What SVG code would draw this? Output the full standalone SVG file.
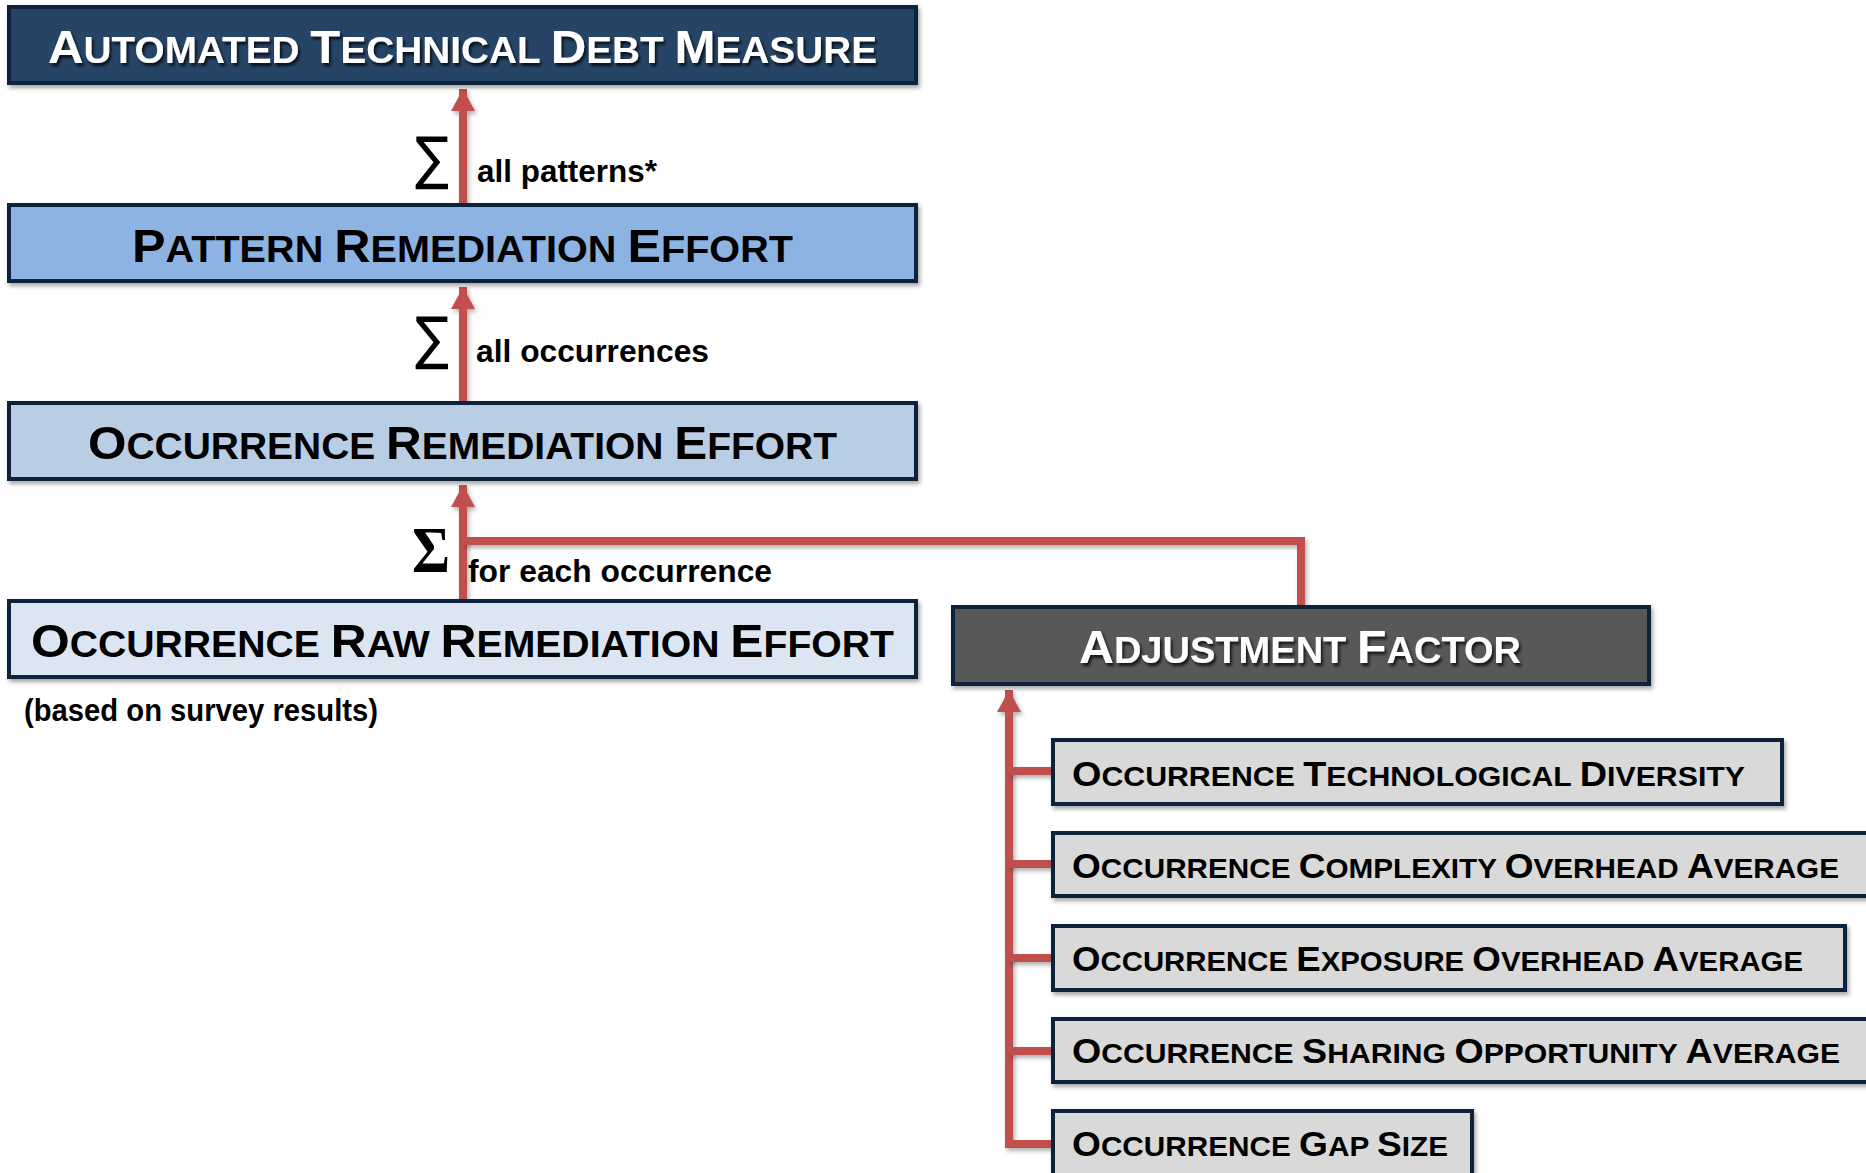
<svg xmlns="http://www.w3.org/2000/svg" width="1866" height="1173" viewBox="0 0 1866 1173">
  <defs>
    <filter id="boxShadow" x="-5%" y="-20%" width="110%" height="150%">
      <feDropShadow dx="2" dy="3" stdDeviation="2" flood-color="#000" flood-opacity="0.35"/>
    </filter>
    <filter id="lineShadow" filterUnits="userSpaceOnUse" x="0" y="0" width="1866" height="1173">
      <feDropShadow dx="2" dy="3" stdDeviation="2" flood-color="#000" flood-opacity="0.3"/>
    </filter>
    <filter id="textShadow" x="-5%" y="-30%" width="110%" height="160%">
      <feDropShadow dx="2" dy="3" stdDeviation="1.5" flood-color="#000" flood-opacity="0.75"/>
    </filter>
    <marker id="arrow" markerUnits="userSpaceOnUse" markerWidth="24" markerHeight="24" refX="22" refY="12" orient="auto">
      <path d="M0,0 L22,12 L0,24 Z" fill="#C0504D"/>
    </marker>
    <style>
      .box { stroke: #10243E; stroke-width: 4; filter: url(#boxShadow); }
      .b1 { fill: #284466; }
      .b2 { fill: #8DB3E2; }
      .b3 { fill: #B9CDE5; }
      .b4 { fill: #DCE6F2; }
      .adj { fill: #595959; }
      .sub { fill: #D9D9D9; }
      .big { font-family: "Liberation Sans", Arial, sans-serif; font-weight: bold; font-size: 37px; fill: #000; }
      .big .c { font-size: 47px; }
      .light { fill: #fff; filter: url(#textShadow); }
      .small { font-family: "Liberation Sans", Arial, sans-serif; font-weight: bold; font-size: 28px; fill: #000; }
      .small .c { font-size: 35px; }
      .lbl { font-family: "Liberation Sans", Arial, sans-serif; font-weight: bold; font-size: 32px; fill: #000; }
      .sig { font-family: "DejaVu Sans", "Liberation Sans", sans-serif; font-size: 58px; fill: #000; }
      .sigb { font-family: "Liberation Serif", "Times New Roman", serif; font-weight: bold; font-size: 65px; fill: #000; }
      .wire { fill: none; stroke: #C0504D; stroke-width: 8; filter: url(#lineShadow); }
    </style>
  </defs>

  <!-- connectors -->
  <g id="connectors">
    <line class="wire" x1="463" y1="203" x2="463" y2="89" marker-end="url(#arrow)"/>
    <line class="wire" x1="463" y1="401" x2="463" y2="287" marker-end="url(#arrow)"/>
    <line class="wire" x1="463" y1="599" x2="463" y2="485" marker-end="url(#arrow)"/>
    <polyline class="wire" points="463,541 1301,541 1301,606"/>
    <polyline class="wire" points="1052,1144 1009,1144 1009,690" marker-end="url(#arrow)"/>
    <line class="wire" x1="1009" y1="771" x2="1052" y2="771"/>
    <line class="wire" x1="1009" y1="864" x2="1052" y2="864"/>
    <line class="wire" x1="1009" y1="958" x2="1052" y2="958"/>
    <line class="wire" x1="1009" y1="1051" x2="1052" y2="1051"/>
  </g>

  <!-- connector labels -->
  <g id="labels">
    <text class="sig" x="415" y="178" textLength="34" lengthAdjust="spacingAndGlyphs">∑</text>
    <text class="lbl" x="477" y="182" textLength="180" lengthAdjust="spacingAndGlyphs">all patterns*</text>
    <text class="sig" x="415" y="358" textLength="34" lengthAdjust="spacingAndGlyphs">∑</text>
    <text class="lbl" x="476" y="362" textLength="233" lengthAdjust="spacingAndGlyphs">all occurrences</text>
    <text class="sigb" x="412" y="572" textLength="38" lengthAdjust="spacingAndGlyphs">Σ</text>
    <text class="lbl" x="468" y="582" textLength="304" lengthAdjust="spacingAndGlyphs">for each occurrence</text>
    <text class="lbl" x="24" y="721" font-size="30" textLength="354" lengthAdjust="spacingAndGlyphs">(based on survey results)</text>
  </g>

  <g id="automated-technical-debt-measure">
    <rect class="box b1" x="9" y="7" width="907" height="76"/>
    <text class="big light" x="48" y="63" textLength="829" lengthAdjust="spacingAndGlyphs"><tspan class="c">A</tspan>UTOMATED <tspan class="c">T</tspan>ECHNICAL <tspan class="c">D</tspan>EBT <tspan class="c">M</tspan>EASURE</text>
  </g>

  <g id="pattern-remediation-effort">
    <rect class="box b2" x="9" y="205" width="907" height="76"/>
    <text class="big" x="132" y="262" textLength="661" lengthAdjust="spacingAndGlyphs"><tspan class="c">P</tspan>ATTERN <tspan class="c">R</tspan>EMEDIATION <tspan class="c">E</tspan>FFORT</text>
  </g>

  <g id="occurrence-remediation-effort">
    <rect class="box b3" x="9" y="403" width="907" height="76"/>
    <text class="big" x="88" y="459" textLength="749" lengthAdjust="spacingAndGlyphs"><tspan class="c">O</tspan>CCURRENCE <tspan class="c">R</tspan>EMEDIATION <tspan class="c">E</tspan>FFORT</text>
  </g>

  <g id="occurrence-raw-remediation-effort">
    <rect class="box b4" x="9" y="601" width="907" height="76"/>
    <text class="big" x="31" y="657" textLength="863" lengthAdjust="spacingAndGlyphs"><tspan class="c">O</tspan>CCURRENCE <tspan class="c">R</tspan>AW <tspan class="c">R</tspan>EMEDIATION <tspan class="c">E</tspan>FFORT</text>
  </g>

  <g id="adjustment-factor">
    <rect class="box adj" x="953" y="607" width="696" height="77"/>
    <text class="big light" x="1079" y="663" textLength="442" lengthAdjust="spacingAndGlyphs"><tspan class="c">A</tspan>DJUSTMENT <tspan class="c">F</tspan>ACTOR</text>
  </g>

  <g id="technological-diversity">
    <rect class="box sub" x="1053" y="740" width="729" height="64"/>
    <text class="small" x="1072" y="786" textLength="673" lengthAdjust="spacingAndGlyphs"><tspan class="c">O</tspan>CCURRENCE <tspan class="c">T</tspan>ECHNOLOGICAL <tspan class="c">D</tspan>IVERSITY</text>
  </g>

  <g id="complexity-overhead-average">
    <rect class="box sub" x="1053" y="833" width="830" height="63"/>
    <text class="small" x="1072" y="878" textLength="767" lengthAdjust="spacingAndGlyphs"><tspan class="c">O</tspan>CCURRENCE <tspan class="c">C</tspan>OMPLEXITY <tspan class="c">O</tspan>VERHEAD <tspan class="c">A</tspan>VERAGE</text>
  </g>

  <g id="exposure-overhead-average">
    <rect class="box sub" x="1053" y="926" width="792" height="64"/>
    <text class="small" x="1072" y="971" textLength="731" lengthAdjust="spacingAndGlyphs"><tspan class="c">O</tspan>CCURRENCE <tspan class="c">E</tspan>XPOSURE <tspan class="c">O</tspan>VERHEAD <tspan class="c">A</tspan>VERAGE</text>
  </g>

  <g id="sharing-opportunity-average">
    <rect class="box sub" x="1053" y="1019" width="830" height="63"/>
    <text class="small" x="1072" y="1063" textLength="768" lengthAdjust="spacingAndGlyphs"><tspan class="c">O</tspan>CCURRENCE <tspan class="c">S</tspan>HARING <tspan class="c">O</tspan>PPORTUNITY <tspan class="c">A</tspan>VERAGE</text>
  </g>

  <g id="gap-size">
    <rect class="box sub" x="1053" y="1111" width="419" height="80"/>
    <text class="small" x="1072" y="1156" textLength="376" lengthAdjust="spacingAndGlyphs"><tspan class="c">O</tspan>CCURRENCE <tspan class="c">G</tspan>AP <tspan class="c">S</tspan>IZE</text>
  </g>
</svg>
